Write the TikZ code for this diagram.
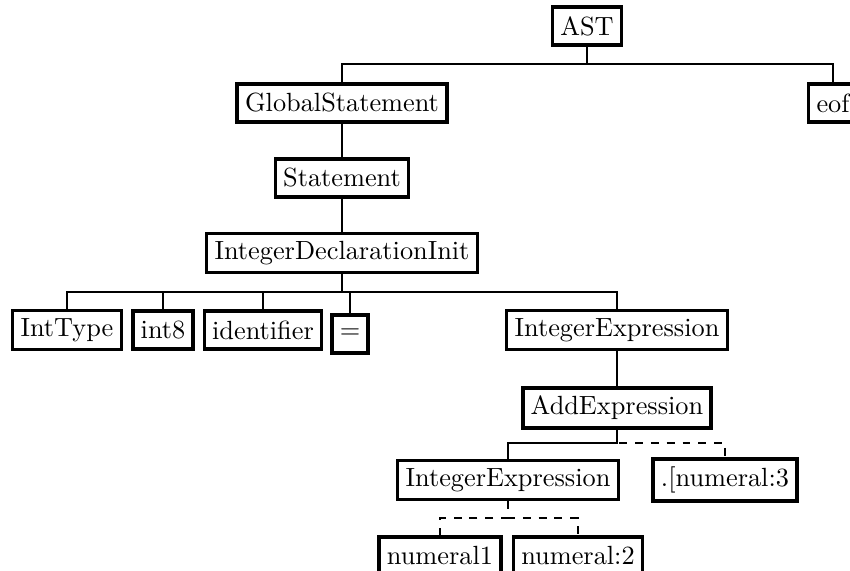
\documentclass[tikz,border=0pt]{standalone}
\usetikzlibrary{calc}
\begin{document}
\begin{tikzpicture}[x=0.38pt,y=-0.38pt,
  tnode/.style={draw, line width=1.3pt, inner xsep=3pt, inner ysep=3pt,
                minimum height=14.4pt, fill=white},
  edge/.style={line width=0.8pt},
  optedge/.style={line width=0.8pt, dashed}]
\path[use as bounding box, clip] (0,0) rectangle (850,571);

% parse tree nodes
\node[tnode] (ast)  at (587,26)  {AST};
\node[tnode] (gs)   at (342,103) {GlobalStatement};
\node[tnode] (eof)  at (833,103) {eof};
\node[tnode] (st)   at (342,178) {Statement};
\node[tnode] (idi)  at (342,253) {IntegerDeclarationInit};
\node[tnode] (it)   at (67,330)  {IntType};
\node[tnode] (i8)   at (163,330) {int8};
\node[tnode] (id)   at (263,330) {identifier};
\node[tnode] (eq)   at (350,334) {=};
\node[tnode] (ie)   at (617,330) {IntegerExpression};
\node[tnode] (ae)   at (617,408) {AddExpression};
\node[tnode] (ie2)  at (508,480) {IntegerExpression};
\node[tnode] (n3)   at (725,480) {.[numeral:3};
\node[tnode] (n1)   at (440,556) {numeral1};
\node[tnode] (n2)   at (578,556) {numeral:2};

% branching points
\coordinate (j0) at (587,64);
\coordinate (j1) at (342,292);
\coordinate (j2) at (617,443);
\coordinate (j3) at (508,518);

% edges
\draw[edge] (ast) -- (j0) -| (gs);
\draw[edge] (j0) -| (eof);
\draw[edge] (gs) -- (st);
\draw[edge] (st) -- (idi);
\draw[edge] (idi) -- (j1) -| (it);
\draw[edge] (j1) -| (i8);
\draw[edge] (j1) -| (id);
\draw[edge] (j1) -| (eq);
\draw[edge] (j1) -| (ie);
\draw[edge] (ie) -- (ae);
\draw[edge] (ae) -- (j2) -| (ie2);
\draw[optedge] (ae) -- (j2) -| (n3);
\draw[optedge] (ie2) -- (j3) -| (n1);
\draw[optedge] (ie2) -- (j3) -| (n2);
\end{tikzpicture}
\end{document}
